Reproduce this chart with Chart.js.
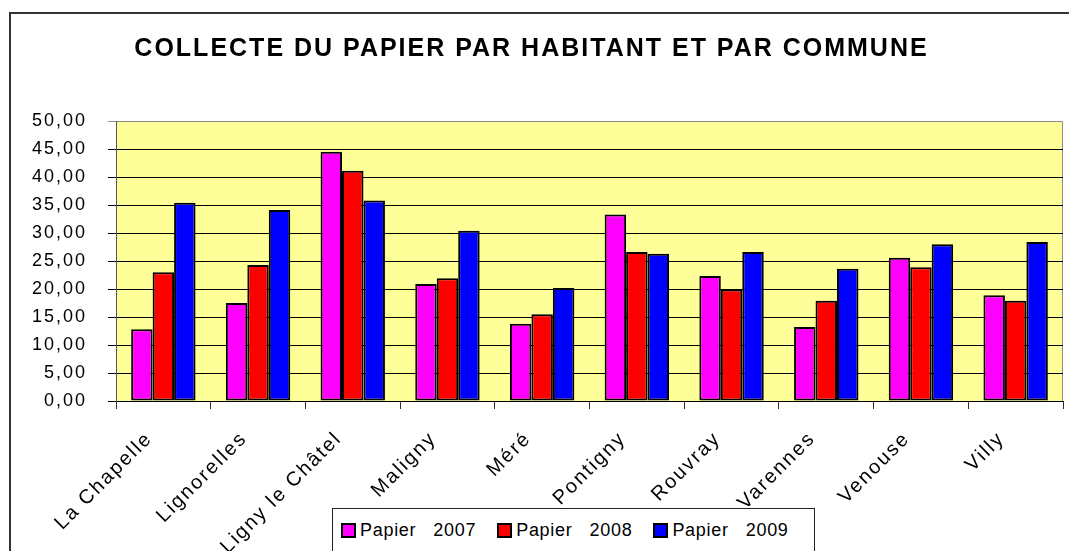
<!DOCTYPE html>
<html>
<head>
<meta charset="utf-8">
<script src="https://cdn.jsdelivr.net/npm/chart.js@4/dist/chart.umd.min.js"></script>
<style>
  html, body { margin: 0; padding: 0; background: #fff; }
  #wrap { position: relative; width: 1069px; height: 551px; overflow: hidden; }
  #legend {
    position: absolute; left: 332px; top: 508px; width: 483px; height: 45px;
    border: 1px solid #222; background: #fff; box-sizing: border-box;
    display: flex; align-items: center; padding-left: 8px;
    font-family: Arial, "Liberation Sans", sans-serif; font-size: 18px; color: #000;
  }
  #legend .item { display: flex; align-items: center; margin-right: 21px; white-space: pre; letter-spacing: 0.7px; }
  #legend .sw { width: 15px; height: 15px; border: 2px solid #000; margin-right: 4px; box-sizing: border-box; }
</style>
</head>
<body>
<div id="wrap">
  <canvas id="chart" width="1069" height="551"></canvas>
  <div id="legend"></div>
</div>
<script>
// --- Data ---
const communes = ['La Chapelle', 'Lignorelles', 'Ligny le Châtel', 'Maligny', 'Méré',
                  'Pontigny', 'Rouvray', 'Varennes', 'Venouse', 'Villy'];
const papier2007 = [12.8, 17.5, 44.5, 20.9, 13.8, 33.3, 22.3, 13.2, 25.6, 18.9];
const papier2008 = [23.0, 24.3, 41.1, 21.9, 15.5, 26.6, 19.9, 17.9, 23.9, 17.9];
const papier2009 = [35.4, 34.1, 35.8, 30.4, 20.2, 26.3, 26.6, 23.6, 28.0, 28.4];
const seriesNames = ['Papier   2007', 'Papier   2008', 'Papier   2009'];
const seriesColors = ['#FF00FF', '#FF0000', '#0000FF'];
const chartTitle = 'COLLECTE DU PAPIER PAR HABITANT ET PAR COMMUNE';

const FONT = 'Arial, "Liberation Sans", sans-serif';

// canvas letter spacing (Excel-like wide text); must be re-applied after resizes
const spacingPlugin = {
  id: 'spacing',
  beforeUpdate(chart) { chart.ctx.letterSpacing = '2px'; },
  beforeDraw(chart) { chart.ctx.letterSpacing = '2px'; }
};

// white page, outer frame and yellow plot area
const backgroundPlugin = {
  id: 'background',
  beforeDraw(chart) {
    const ctx = chart.ctx;
    const a = chart.chartArea;
    ctx.save();
    ctx.fillStyle = '#fff';
    ctx.fillRect(0, 0, chart.width, chart.height);
    ctx.strokeStyle = '#333';
    ctx.lineWidth = 2;
    ctx.strokeRect(10, 13, chart.width + 20, chart.height + 20);
    ctx.fillStyle = '#FFFF99';
    ctx.fillRect(a.left, a.top, a.right - a.left, a.bottom - a.top);
    ctx.strokeStyle = '#8c8c8c';
    ctx.lineWidth = 1;
    ctx.strokeRect(a.left + 0.5, a.top + 0.5, a.right - a.left - 1, a.bottom - a.top);
    ctx.restore();
  }
};

const datasets = [papier2007, papier2008, papier2009].map((vals, i) => ({
  label: seriesNames[i],
  data: vals,
  backgroundColor: seriesColors[i],
  borderColor: '#000',
  borderWidth: 2,
  borderSkipped: false,
  barPercentage: 1,
  categoryPercentage: 0.68
}));

new Chart(document.getElementById('chart'), {
  type: 'bar',
  data: { labels: communes, datasets: datasets },
  plugins: [spacingPlugin, backgroundPlugin],
  options: {
    responsive: false,
    animation: false,
    layout: { padding: { left: 0, right: 6, top: 0, bottom: 0 } },
    plugins: {
      legend: { display: false },
      tooltip: { enabled: false },
      title: {
        display: true,
        text: chartTitle,
        color: '#000',
        font: { family: FONT, size: 25, weight: 'bold' },
        padding: { top: 34, bottom: 57 }
      }
    },
    scales: {
      x: {
        offset: true,
        grid: { offset: true, drawOnChartArea: false, tickLength: 8, color: '#333' },
        border: { color: '#000' },
        ticks: {
          color: '#000',
          font: { family: FONT, size: 20 },
          minRotation: 45, maxRotation: 45,
          autoSkip: false,
          padding: 18,
          labelOffset: -14
        },
        afterFit(scale) { scale.height = 150; }
      },
      y: {
        min: 0, max: 50,
        grid: {
          tickLength: 8,
          color: (c) => (c.tick && c.tick.value === 50 ? '#8c8c8c' : '#000')
        },
        border: { color: '#555' },
        ticks: {
          stepSize: 5,
          color: '#000',
          font: { family: FONT, size: 18 },
          padding: 21,
          callback: (v) => v.toFixed(2).replace('.', ',')
        },
        afterFit(scale) { scale.width = 116; }
      }
    }
  }
});

// legend (HTML box, overlapping the rotated labels as in the original)
const legendDiv = document.getElementById('legend');
seriesNames.forEach((name, i) => {
  const item = document.createElement('div');
  item.className = 'item';
  const sw = document.createElement('span');
  sw.className = 'sw';
  sw.style.background = seriesColors[i];
  const txt = document.createElement('span');
  txt.textContent = name;
  item.appendChild(sw);
  item.appendChild(txt);
  legendDiv.appendChild(item);
});
</script>
</body>
</html>
